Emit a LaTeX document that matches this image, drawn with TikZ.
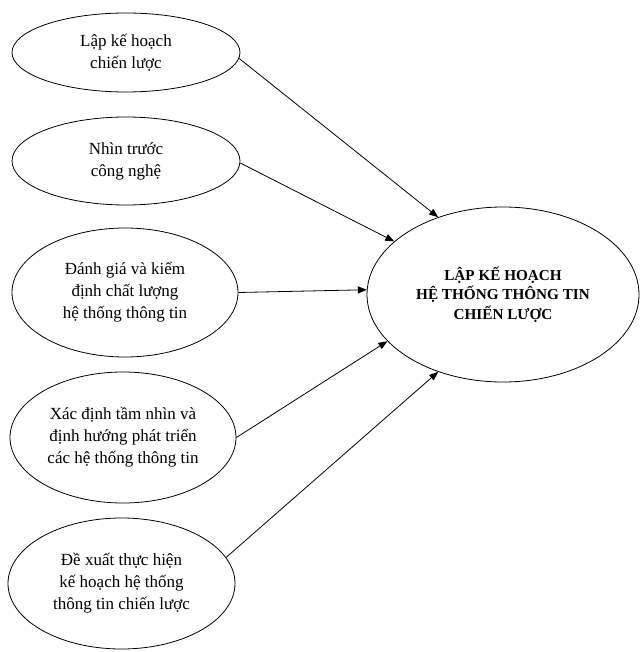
\documentclass[tikz,border=0pt]{standalone}
\usepackage{fontspec}
\setmainfont{Liberation Serif}
\usetikzlibrary{shapes.geometric,arrows.meta}
\tikzset{
  oval/.style={ellipse,draw,line width=0.8pt,inner sep=0pt,align=center,
    font=\fontsize{17}{22}\selectfont},
  bigoval/.style={ellipse,draw,line width=0.8pt,inner sep=0pt,align=center,
    font=\fontsize{15.2}{19.5}\selectfont\bfseries},
  link/.style={line width=0.8pt,-{Triangle[length=9pt,width=7pt]}}
}
\begin{document}
\begin{tikzpicture}[x=1pt,y=-1pt]
\useasboundingbox (0,0) rectangle (640,652);
\node[oval,minimum width=228pt,minimum height=79pt] (e1) at (126,52.5) {Lập kế hoạch\\chiến lược};
\node[oval,minimum width=228pt,minimum height=88pt] (e2) at (126,161) {Nhìn trước\\công nghệ};
\node[oval,minimum width=226pt,minimum height=129pt] (e3) at (125,292.5) {Đánh giá và kiểm\\định chất lượng\\hệ thống thông tin};
\node[oval,minimum width=226pt,minimum height=131pt] (e4) at (123,437.5) {Xác định tầm nhìn và\\định hướng phát triển\\các hệ thống thông tin};
\node[oval,minimum width=227pt,minimum height=131pt] (e5) at (121.5,583.5) {Đề xuất thực hiện\\kế hoạch hệ thống\\thông tin chiến lược};
\node[bigoval,minimum width=272pt,minimum height=175pt] (big) at (503,294.5) {LẬP KẾ HOẠCH\\HỆ THỐNG THÔNG TIN\\CHIẾN LƯỢC};
\draw[link] (e1.-3) -- (big.130.6);
\draw[link] (e2.-1.5) -- (big.154.7);
\draw[link] (e3.0) -- (big.178.3);
\draw[link] (e4.0) -- (big.202.7);
\draw[link] (e5.14) -- (big.230.6);
\end{tikzpicture}
\end{document}
